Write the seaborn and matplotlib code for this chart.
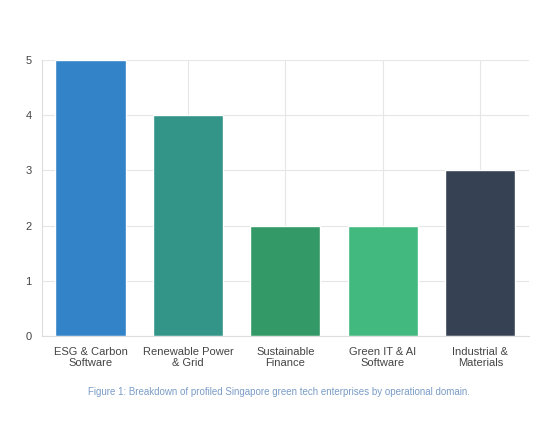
import pandas as pd
import seaborn as sns
import matplotlib.pyplot as plt

# Chart data
domains = ["ESG & Carbon\nSoftware", "Renewable Power\n& Grid", "Sustainable\nFinance",
           "Green IT & AI\nSoftware", "Industrial &\nMaterials"]
counts = [5, 4, 2, 2, 3]
colors = ["#3383c9", "#339488", "#339966", "#42b97f", "#364154"]

df = pd.DataFrame({"domain": domains, "count": counts})

sns.set_style("white")
plt.rcParams['font.family'] = ['Liberation Sans', 'DejaVu Sans']

fig = plt.figure(figsize=(5.58, 4.26), dpi=100)
ax = fig.add_axes([0.075, 0.211, 0.873, 0.648])
sns.barplot(data=df, x="domain", y="count", hue="domain", palette=colors,
            legend=False, width=0.72, ax=ax, saturation=1)

ax.set_ylim(0, 5)
ax.set_yticks(range(6))
ax.set_xlim(-0.5, 4.5)
ax.set_xlabel("")
ax.set_ylabel("")
ax.grid(True, color="#e6e6e6", linewidth=0.8)
ax.set_axisbelow(True)
for s in ["top", "right"]:
    ax.spines[s].set_visible(False)
ax.spines["left"].set_color("#dddddd")
ax.spines["bottom"].set_color("#dddddd")
ax.tick_params(axis="both", colors="#555555", labelsize=8, length=4)
ax.tick_params(axis="both", color="#dddddd")
for lab in ax.get_xticklabels() + ax.get_yticklabels():
    lab.set_color("#444444")

fig.text(0.5, 0.08, "Figure 1: Breakdown of profiled Singapore green tech enterprises by operational domain.",
         ha="center", va="center", fontsize=7, color="#7a9cc6")

fig.savefig("out.png", dpi=100)
